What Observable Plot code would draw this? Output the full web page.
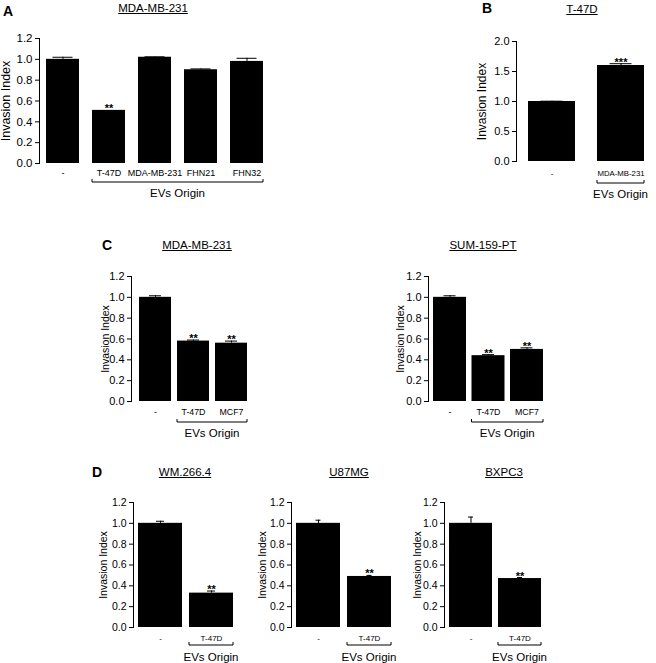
<!DOCTYPE html>
<html><head><meta charset="utf-8">
<script src="https://cdn.jsdelivr.net/npm/d3@7"></script>
<script src="https://cdn.jsdelivr.net/npm/@observablehq/plot@0.6"></script>
<style>
body{margin:0;background:#fff;}
#root{position:relative;width:656px;height:663px;overflow:hidden;font-family:"Liberation Sans",Arial,sans-serif;color:#000;}
.p{position:absolute;}
.t{position:absolute;font-size:11.5px;text-decoration:underline;transform:translate(-50%,-50%);white-space:nowrap;}
.L{position:absolute;font-size:14px;font-weight:bold;transform:translate(-50%,-50%);}
</style></head><body><div id="root"></div>
<script>
// ---- data ----
const yLabel = "Invasion Index";
const originLabel = "EVs Origin";

const catsA = ["-", "T-47D", "MDA-MB-231", "FHN21", "FHN32"];
const valsA = [1.0, 0.51, 1.02, 0.90, 0.98];
const errsA = [0.02, 0, 0.004, 0.008, 0.03];
const starsA = ["", "**", "", "", ""];
const ticksA = [0, 0.2, 0.4, 0.6, 0.8, 1.0, 1.2];

const catsB = ["-", "MDA-MB-231"];
const valsB = [1.0, 1.6];
const errsB = [0.005, 0.03];
const starsB = ["", "***"];
const ticksB = [0, 0.5, 1.0, 1.5, 2.0];

const catsC = ["-", "T-47D", "MCF7"];
const valsC1 = [1.0, 0.58, 0.56];
const errsC1 = [0.015, 0.01, 0.02];
const valsC2 = [1.0, 0.44, 0.50];
const errsC2 = [0.015, 0.01, 0.015];
const starsC = ["", "**", "**"];
const ticksC = [0, 0.2, 0.4, 0.6, 0.8, 1.0, 1.2];

const catsD = ["-", "T-47D"];
const valsD1 = [1.0, 0.33];
const errsD1 = [0.02, 0.02];
const valsD2 = [1.0, 0.49];
const errsD2 = [0.03, 0.01];
const valsD3 = [1.0, 0.47];
const errsD3 = [0.06, 0.01];
const starsD = ["", "**"];
const ticksD = [0, 0.2, 0.4, 0.6, 0.8, 1.0, 1.2];

const titles = ["MDA-MB-231", "T-47D", "MDA-MB-231", "SUM-159-PT", "WM.266.4", "U87MG", "BXPC3"];
const letters = ["A", "B", "C", "D"];

const FONT = '"Liberation Sans", Arial, sans-serif';
const root = document.getElementById("root");

function bracket(o) {
  return (index, scales, values, dims) => {
    const x = scales.x;
    const bw = x.bandwidth ? x.bandwidth() : 0;
    const n = o.cats.length;
    const x1 = x(o.cats[1]), x2 = x(o.cats[n - 1]) + bw;
    const y0 = dims.height - dims.marginBottom + o.brY;
    const g = d3.create("svg:g");
    g.append("path")
      .attr("d", `M${x1},${y0 - 3}V${y0}H${x2}V${y0 - 3}`)
      .attr("fill", "none").attr("stroke", "#000").attr("stroke-width", 1);
    g.append("text")
      .attr("x", (x1 + x2) / 2).attr("y", y0 + o.evY)
      .attr("text-anchor", "middle").attr("font-size", o.evFont)
      .attr("fill", "#000").text(originLabel);
    return g.node();
  };
}

function panel(o) {
  const n = o.cats.length;
  const W = 2 * o.outer + (n - 1) * o.step + o.bw;
  const width = o.ml + W + o.mr;
  const height = o.mt + o.fh + o.mb;
  const data = o.cats.map((c, i) => ({cat: c, val: o.vals[i], err: o.errs[i], star: o.stars[i]}));
  const eb = data.filter(d => d.err > 0);
  const svg = Plot.plot({
    width, height,
    marginLeft: o.ml, marginRight: o.mr, marginTop: o.mt, marginBottom: o.mb,
    style: {fontFamily: FONT, fontSize: "11px", color: "#000", background: "transparent", overflow: "visible"},
    x: {domain: o.cats, paddingInner: 1 - o.bw / o.step, paddingOuter: o.outer / o.step, round: false},
    y: {domain: [0, o.yMax]},
    marks: [
      Plot.barY(data, {x: "cat", y: "val", fill: "#000"}),
      Plot.ruleX(eb, {x: "cat", y1: "val", y2: d => d.val + d.err, stroke: "#000", strokeWidth: 1}),
      Plot.tickY(eb, {x: "cat", y: d => d.val + d.err, stroke: "#000", strokeWidth: 1, inset: (o.bw - o.cap) / 2}),
      Plot.text(data.filter(d => d.star), {x: "cat", y: d => d.val + d.err, text: "star", lineAnchor: "bottom", dy: o.starDy, fontSize: 11, fontWeight: "bold"}),
      Plot.frame({anchor: "left", stroke: "#000"}),
      Plot.axisY(o.yTicks, {tickSize: 4, tickPadding: 3, tickFormat: d3.format(".1f"), fontSize: o.tickFont, label: null, stroke: "#000"}),
      Plot.axisX({tickSize: 0, tickPadding: o.xPad, fontSize: o.catFont, label: null}),
      Plot.text([yLabel], {text: d => d, frameAnchor: "left", textAnchor: "middle", rotate: -90, dx: -o.labOff, fontSize: o.labFont}),
      bracket(o)
    ]
  });
  const div = document.createElement("div");
  div.className = "p";
  div.style.left = o.left + "px";
  div.style.top = o.top + "px";
  div.appendChild(svg);
  root.appendChild(div);
}

function label(cls, text, x, y) {
  const d = document.createElement("div");
  d.className = cls;
  d.style.left = x + "px";
  d.style.top = y + "px";
  d.textContent = text;
  root.appendChild(d);
}

// Panel A
panel({cats: catsA, vals: valsA, errs: errsA, stars: starsA, yMax: 1.2, yTicks: ticksA,
  left: 0, top: 0, ml: 39, mr: 10, mt: 38, fh: 125, mb: 42,
  step: 46, bw: 33, outer: 7, cap: 20, starDy: 2,
  tickFont: 11.5, labFont: 12.5, labOff: 34, catFont: 9, xPad: 6, brY: 19, evY: 15, evFont: 11.5});
// Panel B
panel({cats: catsB, vals: valsB, errs: errsB, stars: starsB, yMax: 2.0, yTicks: ticksB,
  left: 470, top: 0, ml: 46, mr: 0, mt: 41, fh: 120, mb: 42,
  step: 69, bw: 47, outer: 12, cap: 22, starDy: 2,
  tickFont: 11, labFont: 12, labOff: 34, catFont: 7.8, xPad: 9, brY: 22, evY: 15, evFont: 11.5});
// Panel C
panel({cats: catsC, vals: valsC1, errs: errsC1, stars: starsC, yMax: 1.2, yTicks: ticksC,
  left: 90, top: 231, ml: 41, mr: 6, mt: 45, fh: 125, mb: 42,
  step: 38, bw: 32, outer: 8, cap: 12, starDy: 2,
  tickFont: 11, labFont: 10.5, labOff: 26, catFont: 8.8, xPad: 7, brY: 21, evY: 15, evFont: 11.5});
panel({cats: catsC, vals: valsC2, errs: errsC2, stars: starsC, yMax: 1.2, yTicks: ticksC,
  left: 382, top: 231, ml: 46, mr: 6, mt: 45, fh: 125, mb: 42,
  step: 38.5, bw: 33, outer: 5, cap: 12, starDy: 2,
  tickFont: 11, labFont: 10.5, labOff: 28, catFont: 8.8, xPad: 7, brY: 21, evY: 15, evFont: 11.5});
// Panel D
panel({cats: catsD, vals: valsD1, errs: errsD1, stars: starsD, yMax: 1.2, yTicks: ticksD,
  left: 93, top: 470, ml: 40, mr: 6, mt: 32, fh: 125, mb: 38,
  step: 51, bw: 44, outer: 5, cap: 8, starDy: 2,
  tickFont: 10.5, labFont: 10.5, labOff: 30, catFont: 8, xPad: 8, brY: 18, evY: 16, evFont: 11.5});
panel({cats: catsD, vals: valsD2, errs: errsD2, stars: starsD, yMax: 1.2, yTicks: ticksD,
  left: 251, top: 470, ml: 40, mr: 6, mt: 32, fh: 125, mb: 38,
  step: 51, bw: 44, outer: 5, cap: 5, starDy: 2,
  tickFont: 10.5, labFont: 10.5, labOff: 29, catFont: 8, xPad: 8, brY: 18, evY: 16, evFont: 11.5});
panel({cats: catsD, vals: valsD3, errs: errsD3, stars: starsD, yMax: 1.2, yTicks: ticksD,
  left: 404, top: 470, ml: 40, mr: 6, mt: 32, fh: 125, mb: 38,
  step: 49, bw: 43, outer: 5, cap: 5, starDy: 2,
  tickFont: 10.5, labFont: 10.5, labOff: 27, catFont: 8, xPad: 8, brY: 18, evY: 16, evFont: 11.5});

// titles and panel letters
label("t", titles[0], 153, 8);
label("t", titles[1], 582, 9);
label("t", titles[2], 197, 245);
label("t", titles[3], 483, 245);
label("t", titles[4], 185, 472);
label("t", titles[5], 349, 472);
label("t", titles[6], 504, 472);
label("L", letters[0], 8, 11);
label("L", letters[1], 487, 8);
label("L", letters[2], 107, 245);
label("L", letters[3], 97, 472);
</script></body></html>
